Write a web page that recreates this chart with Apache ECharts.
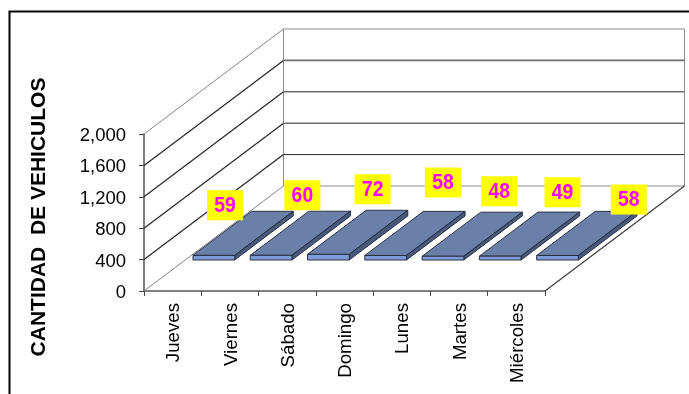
<!DOCTYPE html>
<html>
<head>
<meta charset="utf-8">
<title>Cantidad de vehículos</title>
<style>html,body{margin:0;padding:0;background:#fff;overflow:hidden}#chart{width:689px;height:394px}</style>
<script src="https://cdn.jsdelivr.net/npm/echarts@6/dist/echarts.min.js"></script>
</head>
<body>
<div id="chart"></div>
<script>
const dias = ['Jueves', 'Viernes', 'Sábado', 'Domingo', 'Lunes', 'Martes', 'Miércoles'];
const vehiculos = [59, 60, 72, 58, 48, 49, 58];
const marcasEje = [0, 400, 800, 1200, 1600, 2000];
const tituloEje = 'CANTIDAD  DE VEHICULOS';

// Oblique projection of the chart's depth axis, in pixels.
const FONDO_X = 139.5;
const FONDO_Y = 105;
// Slab placement along the depth axis and across each category band.
const SLAB_INICIO = 0.295;
const SLAB_FONDO = 0.42;
const SLAB_ANCHO = 0.728;
// Hand-placed value label shifts, from the centre of each slab.
const desplazaEtiqueta = [[-18, -28], [2, -38], [15, -43], [28, -51], [27, -43], [33, -42], [42, -34]];

const FUENTE = '"Liberation Sans", Arial, sans-serif';

function linea(x1, y1, x2, y2, color, ancho) {
  return { type: 'line', shape: { x1, y1, x2, y2 }, style: { stroke: color, lineWidth: ancho } };
}

// Side wall and back wall lines for one value tick.
function pintaRejilla(params, api) {
  const v = api.value(0);
  const y = api.coord([0, v])[1];
  const cs = params.coordSys;
  const xIzq = cs.x;
  const xDer = cs.x + cs.width;
  const extremo = v === 0 || v === 2000;
  const hijos = [
    linea(xIzq, y, xIzq + FONDO_X, y - FONDO_Y, extremo ? '#858585' : '#262626', extremo ? 1 : 1.2),
    linea(xIzq + FONDO_X, y - FONDO_Y, xDer + FONDO_X, y - FONDO_Y,
      v === 400 ? '#2a2a2a' : (extremo ? '#8c8c8c' : '#6e6e6e'), v === 400 || extremo ? 1 : 1.6)
  ];
  if (v === 0) {
    const yTop = api.coord([0, 2000])[1];
    hijos.push(linea(xIzq + FONDO_X, y - FONDO_Y, xIzq + FONDO_X, yTop - FONDO_Y, '#8c8c8c', 1));
    hijos.push(linea(xDer + FONDO_X, y - FONDO_Y, xDer + FONDO_X, yTop - FONDO_Y, '#8c8c8c', 1));
    hijos.push(linea(xDer, y, xDer + FONDO_X, y - FONDO_Y, '#3c3c3c', 1.2));
  }
  return { type: 'group', children: hijos };
}

// One flat 3D slab: front, top and side faces plus its value label.
function pintaLosa(params, api) {
  const i = api.value(0);
  const v = api.value(1);
  const base = api.coord([i, 0]);
  const cima = api.coord([i, v]);
  const alto = base[1] - cima[1];
  const ancho = api.size([1, 0])[0] * SLAB_ANCHO;
  const x0 = base[0] + SLAB_INICIO * FONDO_X - ancho / 2;
  const yb = base[1] - SLAB_INICIO * FONDO_Y;
  const yt = yb - alto;
  const x1 = x0 + ancho;
  const dx = SLAB_FONDO * FONDO_X;
  const dy = SLAB_FONDO * FONDO_Y;
  const borde = { stroke: '#1f2635', lineWidth: 0.9, lineJoin: 'round' };
  const cara = (puntos, fill) => ({ type: 'polygon', shape: { points: puntos }, style: Object.assign({ fill }, borde) });
  const cx = x0 + ancho / 2 + dx / 2;
  const cy = yt - dy / 2;
  const d = desplazaEtiqueta[i];
  return {
    type: 'group',
    children: [
      cara([[x0, yt], [x1, yt], [x1 + dx, yt - dy], [x0 + dx, yt - dy]], '#6a80a8'),
      cara([[x1, yb], [x1 + dx, yb - dy], [x1 + dx, yt - dy], [x1, yt]], '#47597c'),
      cara([[x0, yb], [x1, yb], [x1, yt], [x0, yt]], '#7d9bd6'),
      { type: 'rect', z2: 10, shape: { x: cx + d[0] - 18, y: cy + d[1] - 15, width: 36, height: 30 }, style: { fill: '#ffff00' } },
      { type: 'text', z2: 11, x: cx + d[0], y: cy + d[1] + 0.5, scaleX: 0.88,
        style: { text: String(v), fill: '#ff00ff', font: 'bold 22px ' + FUENTE, align: 'center', verticalAlign: 'middle' } }
    ]
  };
}

const grafico = echarts.init(document.getElementById('chart'), null, { renderer: 'canvas' });
grafico.setOption({
  animation: false,
  backgroundColor: '#ffffff',
  grid: { left: 144, top: 134, width: 401, height: 157, containLabel: false },
  graphic: [
    { type: 'rect', z: -1, shape: { x: 9.5, y: 11.5, width: 900, height: 600 },
      style: { fill: '#ffffff', stroke: '#000000', lineWidth: 2 } },
    { type: 'text', z: 5, x: 39, y: 217, rotation: Math.PI / 2,
      style: { text: tituloEje, fill: '#000000', font: 'bold 21px ' + FUENTE, align: 'center', verticalAlign: 'middle' } }
  ],
  xAxis: {
    type: 'category',
    data: dias,
    boundaryGap: true,
    axisLine: { lineStyle: { color: '#555555', width: 1.5 } },
    axisTick: { show: true, length: 5, lineStyle: { color: '#444444', width: 1 } },
    axisLabel: { interval: 0, rotate: 90, margin: 12, formatter: d => '{n|' + d + '}',
      rich: { n: { color: '#000000', fontFamily: FUENTE, fontSize: 18.7, padding: [3, 0, 0, 0] } } },
    splitLine: { show: false }
  },
  yAxis: {
    type: 'value',
    min: 0,
    max: 2000,
    interval: 400,
    axisLine: { show: true, lineStyle: { color: '#555555', width: 1.5 } },
    axisTick: { show: true, length: 5, lineStyle: { color: '#444444', width: 1 } },
    axisLabel: { margin: 18, formatter: v => '{n|' + v.toLocaleString('en-US') + '}',
      rich: { n: { color: '#000000', fontFamily: FUENTE, fontSize: 18.5, padding: [4, 0, 0, 0] } } },
    splitLine: { show: false }
  },
  series: [
    { type: 'custom', name: 'rejilla', silent: true, z: 1, clip: false,
      data: marcasEje.map(v => [v]), encode: { y: 0 }, renderItem: pintaRejilla },
    { type: 'custom', name: 'vehiculos', silent: true, z: 3, clip: false,
      data: vehiculos.map((v, i) => [i, v]), encode: { x: 0, y: 1 }, renderItem: pintaLosa }
  ]
});
</script>
</body>
</html>
